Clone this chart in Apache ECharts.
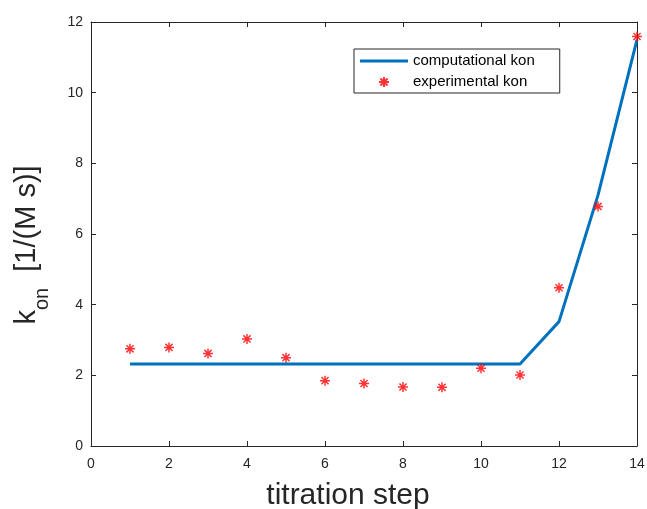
<!DOCTYPE html>
<html><head><meta charset="utf-8">
<script src="https://cdn.jsdelivr.net/npm/echarts@6/dist/echarts.min.js"></script>
<style>html,body{margin:0;padding:0;background:#fff}#c{width:647px;height:509px}</style>
</head><body><div id="c"></div>
<script>
var steps = [1,2,3,4,5,6,7,8,9,10,11,12,13,14];
var computational = [2.32,2.32,2.32,2.32,2.32,2.32,2.32,2.32,2.32,2.32,2.32,3.52,7.1,11.5];
var experimental = [2.75,2.79,2.62,3.03,2.50,1.85,1.77,1.67,1.66,2.20,2.01,4.48,6.78,11.59];
var xTicks = {min:0, max:14, interval:2};
var yTicks = {min:0, max:12, interval:2};
var FONT = '"Liberation Sans", Arial, Helvetica, sans-serif';
var AX = '#262626';
var chart = echarts.init(document.getElementById('c'), null, {renderer:'canvas'});
var star = 'path://M0,-1L0,1M-1,0L1,0M-0.71,-0.71L0.71,0.71M-0.71,0.71L0.71,-0.71';
function baseAxis(extra){
  return Object.assign({
    type:'value', splitLine:{show:false},
    axisLine:{show:true, onZero:false, lineStyle:{color:AX, width:1}},
    axisTick:{show:true, inside:true, length:5, lineStyle:{color:AX}},
    axisLabel:{color:AX, fontSize:14, fontFamily:FONT, margin:8}
  }, extra);
}
chart.setOption({
  animation:false,
  textStyle:{fontFamily:FONT},
  grid:{left:91, right:10, top:22, bottom:63, containLabel:false, outerBoundsMode:'none'},
  legend:{
    orient:'vertical', left:354, top:49,
    itemWidth:48, itemHeight:10, itemGap:5,
    padding:[4,25,3,6],
    borderColor:AX, borderWidth:1, backgroundColor:'#fff',
    textStyle:{fontSize:15, color:'#000', fontFamily:FONT, lineHeight:16},
    data:[
      {name:'computational kon', icon:'path://M0,0H48V3H0Z'},
      {name:'experimental kon'}
    ]
  },
  xAxis:[
    baseAxis({min:xTicks.min, max:xTicks.max, interval:xTicks.interval, position:'bottom',
      axisLabel:{color:AX, fontSize:14, fontFamily:FONT, margin:11},
      name:'titration step', nameLocation:'middle', nameGap:35,
      nameTextStyle:{fontSize:30, color:AX, fontFamily:FONT, padding:[0,32,0,0]}}),
    baseAxis({min:xTicks.min, max:xTicks.max, interval:xTicks.interval, position:'top', axisLabel:{show:false}})
  ],
  yAxis:[
    baseAxis({min:yTicks.min, max:yTicks.max, interval:yTicks.interval, position:'left',
      name:'{k|k}{s|on}{k|  [1/(M s)]}', nameLocation:'middle', nameGap:50, nameRotate:90,
      nameTextStyle:{color:AX, fontFamily:FONT, padding:[0,22,0,0], rich:{
        k:{fontSize:29, color:AX, fontFamily:FONT, verticalAlign:'bottom', lineHeight:38},
        s:{fontSize:20, color:AX, fontFamily:FONT, verticalAlign:'bottom', lineHeight:38, padding:[0,0,-11,0]}
      }}}),
    baseAxis({min:yTicks.min, max:yTicks.max, interval:yTicks.interval, position:'right', axisLabel:{show:false}})
  ],
  series:[
    {name:'computational kon', type:'line', xAxisIndex:0, yAxisIndex:0,
     data:steps.map(function(s,i){return [s, computational[i]];}),
     showSymbol:false, symbol:'none', lineStyle:{color:'#0072BD', width:3}, itemStyle:{color:'#0072BD'}, z:2},
    {name:'experimental kon', type:'scatter', xAxisIndex:0, yAxisIndex:0,
     data:steps.map(function(s,i){return [s, experimental[i]];}),
     symbol:star, symbolSize:10,
     itemStyle:{color:'rgba(0,0,0,0)', borderColor:'#FF0000', borderWidth:1.5}, z:3}
  ]
});
</script></body></html>
